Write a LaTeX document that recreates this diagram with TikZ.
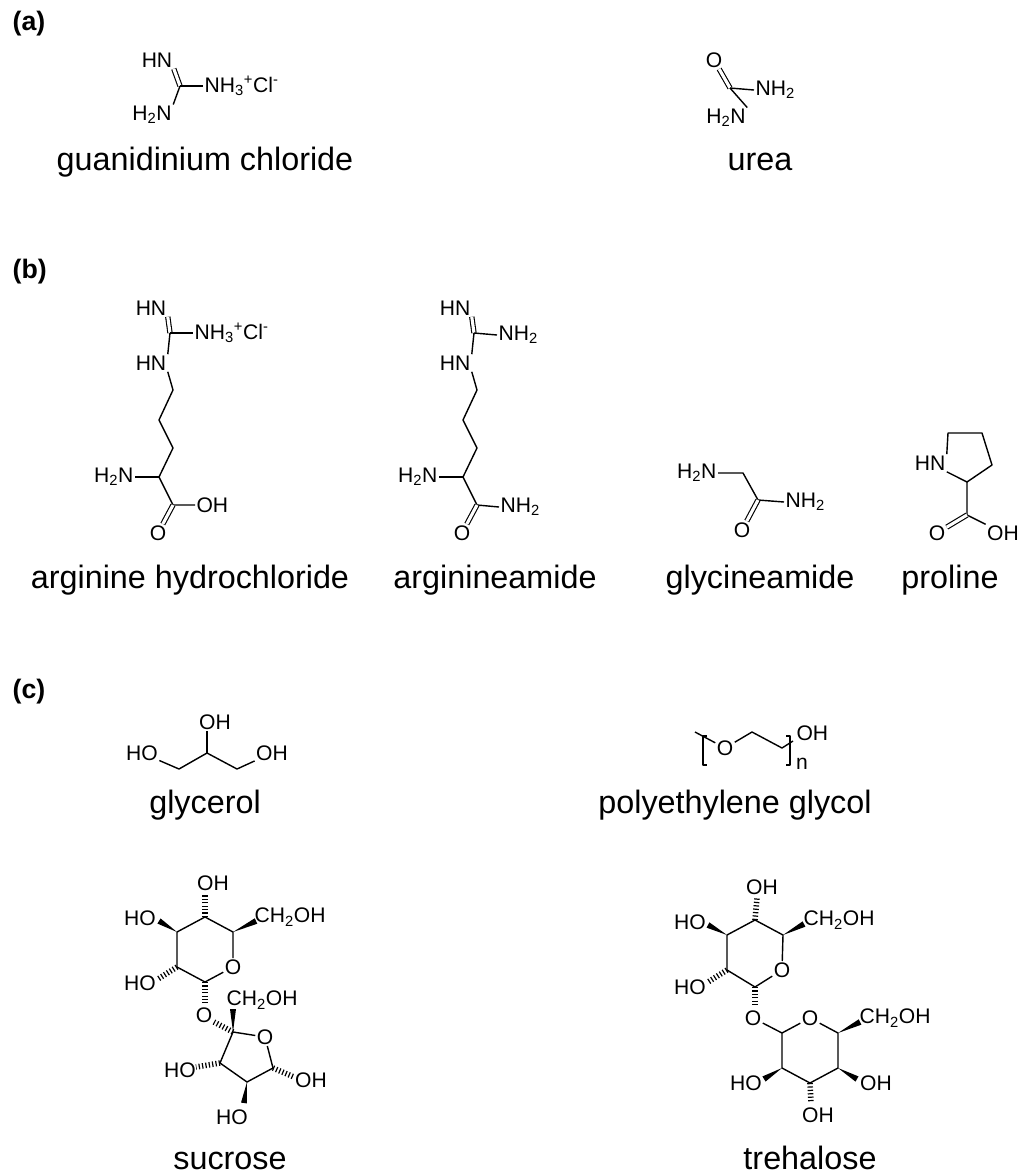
\documentclass[tikz,border=0pt]{standalone}
\usepackage{fontspec}
\setmainfont{Liberation Sans}
\usetikzlibrary{calc}
\tikzset{
  atom/.style={inner sep=0.6pt, font=\fontsize{15}{15}\selectfont},
  mollabel/.style={anchor=base, inner sep=0pt, font=\fontsize{23}{23}\selectfont},
  partlabel/.style={anchor=base west, inner sep=0pt, font=\fontsize{19}{19}\selectfont\bfseries},
  dbl/.style={double, double distance=2.2pt, line width=0.8pt},
  hashb/.style={line width=1.4mm, dash pattern=on 0.3mm off 0.55mm},
}
\newcommand{\wedgeb}[2]{\fill (#1) -- ($(#2)!0.75mm!90:(#1)$) -- ($(#2)!0.75mm!-90:(#1)$) -- cycle;}
\begin{document}
\begin{tikzpicture}[x=0.25mm, y=-0.25mm, line width=1pt, line join=round]
\useasboundingbox (0,0) rectangle (1024,1176);
\clip (0,0) rectangle (1024,1176);
\fill[white] (0,0) rectangle (1024,1176);

\node[partlabel] (pa) at (12,30) {(a)};
\node[partlabel] (pb) at (12,278) {(b)};
\node[partlabel] (pc) at (12,698) {(c)};

% guanidinium chloride
\coordinate (gC) at (180,86);
\node[atom] (gHN) at (157,60) {HN};
\node[atom,anchor=west] (gNH3) at (203,86) {NH\textsubscript{3}\textsuperscript{+}Cl\textsuperscript{-}};
\node[atom] (gH2N) at (152,115) {H\textsubscript{2}N};
\draw[dbl] (gHN.south east)--(gC);
\draw (gC)--(gNH3.west);
\draw (gC)--(gH2N.north east);
\node[mollabel] (gname) at (205,170) {guanidinium chloride};

% urea
\coordinate (uC) at (730,88);
\node[atom] (uO) at (714,60) {O};
\node[atom,anchor=west] (uNH2) at (754,90) {NH\textsubscript{2}};
\node[atom] (uH2N) at (726,118) {H\textsubscript{2}N};
\draw[dbl] (uO)--(uC);
\draw (uC)--(uNH2.west);
\draw (uC)--(uH2N.north east);
\node[mollabel] (uname) at (760,170) {urea};

% arginine hydrochloride
\node[atom] (aHN1) at (151,308) {HN};
\coordinate (aC) at (170,333);
\node[atom,anchor=west] (aNH3) at (193,333) {NH\textsubscript{3}\textsuperscript{+}Cl\textsuperscript{-}};
\node[atom] (aHN2) at (151,363) {HN};
\coordinate (a1) at (173,390);
\coordinate (a2) at (159,420);
\coordinate (a3) at (173,448);
\coordinate (aCa) at (159,477);
\node[atom,anchor=east] (aH2N) at (135,477) {H\textsubscript{2}N};
\coordinate (aCc) at (173,505);
\node[atom,anchor=west] (aOH) at (195,505) {OH};
\node[atom] (aO) at (158,533) {O};
\draw[dbl] (aHN1.south east)--(aC);
\draw (aC)--(aNH3.west);
\draw (aC)--(aHN2.north east);
\draw (aHN2.south east)--(a1)--(a2)--(a3)--(aCa);
\draw (aCa)--(aH2N.east);
\draw (aCa)--(aCc)--(aOH.west);
\draw[dbl] (aCc)--(aO);
\node[mollabel] (aname) at (190,588) {arginine hydrochloride};

% arginineamide
\node[atom] (bHN1) at (455,308) {HN};
\coordinate (bC) at (474,333);
\node[atom,anchor=west] (bNH2) at (497,335) {NH\textsubscript{2}};
\node[atom] (bHN2) at (455,363) {HN};
\coordinate (b1) at (477,390);
\coordinate (b2) at (463,420);
\coordinate (b3) at (477,448);
\coordinate (bCa) at (463,477);
\node[atom,anchor=east] (bH2N) at (439,477) {H\textsubscript{2}N};
\coordinate (bCc) at (477,505);
\node[atom,anchor=west] (bNH2b) at (499,507) {NH\textsubscript{2}};
\node[atom] (bO) at (462,533) {O};
\draw[dbl] (bHN1.south east)--(bC);
\draw (bC)--(bNH2.west);
\draw (bC)--(bHN2.north east);
\draw (bHN2.south east)--(b1)--(b2)--(b3)--(bCa);
\draw (bCa)--(bH2N.east);
\draw (bCa)--(bCc)--(bNH2b.west);
\draw[dbl] (bCc)--(bO);
\node[mollabel] (bname) at (495,588) {arginineamide};

% glycineamide
\node[atom,anchor=east] (cH2N) at (718,473) {H\textsubscript{2}N};
\coordinate (c1) at (743,473);
\coordinate (cC) at (758,500);
\node[atom,anchor=west] (cNH2) at (784,502) {NH\textsubscript{2}};
\node[atom] (cO) at (742,530) {O};
\draw (cH2N.east)--(c1)--(cC)--(cNH2.west);
\draw[dbl] (cC)--(cO);
\node[mollabel] (cname) at (760,588) {glycineamide};

% proline
\node[atom] (pHN) at (930,463) {HN};
\coordinate (p5) at (948,433);
\coordinate (p4) at (982,433);
\coordinate (p3) at (992,465);
\coordinate (p2) at (967,482);
\coordinate (pC) at (967,515);
\node[atom] (pO) at (937,533) {O};
\node[atom] (pOH) at (1003,533) {OH};
\draw (pHN.north east)--(p5)--(p4)--(p3)--(p2)--(pHN.south east);
\draw (p2)--(pC)--(pOH);
\draw[dbl] (pC)--(pO);
\node[mollabel] (pname) at (950,588) {proline};

% glycerol
\node[atom] (yHO) at (142,753) {HO};
\coordinate (y1) at (179,769);
\coordinate (y2) at (207,753);
\node[atom] (yOHt) at (215,722) {OH};
\coordinate (y3) at (237,769);
\node[atom] (yOH) at (272,753) {OH};
\draw (yHO)--(y1)--(y2)--(y3)--(yOH);
\draw (y2)--(y2 |- yOHt.south);
\node[mollabel] (yname) at (205,813) {glycerol};

% polyethylene glycol
\coordinate (eM) at (695,732);
\node[atom] (eO) at (725,748) {O};
\coordinate (e1) at (752,732);
\coordinate (e2) at (782,748);
\coordinate (e3) at (793,741);
\node[atom,anchor=west] (eOH) at (795,733) {OH};
\node[atom] (en) at (802,764) {n};
\draw (eM)--(eO)--(e1)--(e2)--(e3);
\draw[line width=0.8pt] (707,736)--(703,736)--(703,765)--(707,765);
\draw[line width=0.8pt] (786,736)--(790,736)--(790,765)--(786,765);
\node[mollabel] (ename) at (735,813) {polyethylene glycol};

% sucrose
\coordinate (s4) at (177,932);
\coordinate (s3) at (205,917);
\coordinate (s5) at (233,932);
\node[atom] (sO) at (233,967) {O};
\coordinate (s1) at (205,982);
\coordinate (s2) at (177,967);
\draw (s4)--(s3)--(s5)--(sO)--(s1)--(s2)--(s4);
\node[atom] (sOHt) at (213,883) {OH};
\coordinate (s3e) at (205,895);
\draw[hashb] (s3)--(s3e);
\node[atom] (sHOa) at (140,918) {HO};
\coordinate (s4e) at (159,921);
\wedgeb{s4}{s4e}
\node[atom,anchor=west] (sCH1) at (253,917) {CH\textsubscript{2}OH};
\coordinate (s5e) at (256,921);
\wedgeb{s5}{s5e}
\node[atom] (sHOb) at (140,983) {HO};
\coordinate (s2e) at (158,979);
\draw[hashb] (s2)--(s2e);
\node[atom] (sOg) at (204,1015) {O};
\coordinate (s1e) at (205,1003);
\draw[hashb] (s1)--(s1e);
\coordinate (f2) at (233,1032);
\coordinate (sOge) at (214,1022);
\draw[hashb] (f2)--(sOge);
\node[atom,anchor=west] (sCH2) at (225,1000) {CH\textsubscript{2}OH};
\coordinate (f2e) at (233,1009);
\wedgeb{f2}{f2e}
\node[atom] (fO) at (265,1037) {O};
\coordinate (f5) at (273,1068);
\coordinate (f4) at (247,1082);
\coordinate (f3) at (220,1063);
\draw (f2)--(fO)--(f5)--(f4)--(f3)--(f2);
\node[atom] (fHOa) at (180,1070) {HO};
\coordinate (f3e) at (196,1067);
\draw[hashb] (f3)--(f3e);
\node[atom] (fHOb) at (232,1117) {HO};
\coordinate (f4e) at (244,1103);
\wedgeb{f4}{f4e}
\node[atom] (fOH) at (311,1080) {OH};
\coordinate (f5e) at (294,1077);
\draw[hashb] (f5)--(f5e);
\node[mollabel] (sname) at (230,1169) {sucrose};

% trehalose
\coordinate (t4) at (727,935);
\coordinate (t3) at (755,920);
\coordinate (t5) at (783,935);
\node[atom] (tO) at (782,970) {O};
\coordinate (t1) at (755,987);
\coordinate (t2) at (727,970);
\draw (t4)--(t3)--(t5)--(tO)--(t1)--(t2)--(t4);
\node[atom] (tOHt) at (762,887) {OH};
\coordinate (t3e) at (757,898);
\draw[hashb] (t3)--(t3e);
\node[atom] (tHOa) at (690,922) {HO};
\coordinate (t4e) at (708,925);
\wedgeb{t4}{t4e}
\node[atom,anchor=west] (tCH1) at (802,920) {CH\textsubscript{2}OH};
\coordinate (t5e) at (804,924);
\wedgeb{t5}{t5e}
\node[atom] (tHOb) at (690,987) {HO};
\coordinate (t2e) at (708,982);
\draw[hashb] (t2)--(t2e);
\node[atom] (tOg) at (753,1018) {O};
\coordinate (t1e) at (755,1006);
\draw[hashb] (t1)--(t1e);
\coordinate (u1) at (782,1033);
\node[atom] (uO2) at (810,1018) {O};
\coordinate (u5) at (838,1033);
\coordinate (u4) at (838,1068);
\coordinate (u3) at (810,1083);
\coordinate (u2) at (782,1068);
\draw (tOg)--(u1)--(uO2)--(u5)--(u4)--(u3)--(u2)--(u1);
\node[atom,anchor=west] (tCH2) at (858,1018) {CH\textsubscript{2}OH};
\coordinate (u5e) at (860,1022);
\wedgeb{u5}{u5e}
\node[atom] (uHO) at (746,1083) {HO};
\coordinate (u2e) at (764,1079);
\wedgeb{u2}{u2e}
\node[atom] (uOHr) at (876,1083) {OH};
\coordinate (u4e) at (857,1079);
\wedgeb{u4}{u4e}
\node[atom] (uOHb) at (818,1115) {OH};
\coordinate (u3e) at (811,1103);
\draw[hashb] (u3)--(u3e);
\node[mollabel] (tname) at (810,1169) {trehalose};
\end{tikzpicture}
\end{document}
